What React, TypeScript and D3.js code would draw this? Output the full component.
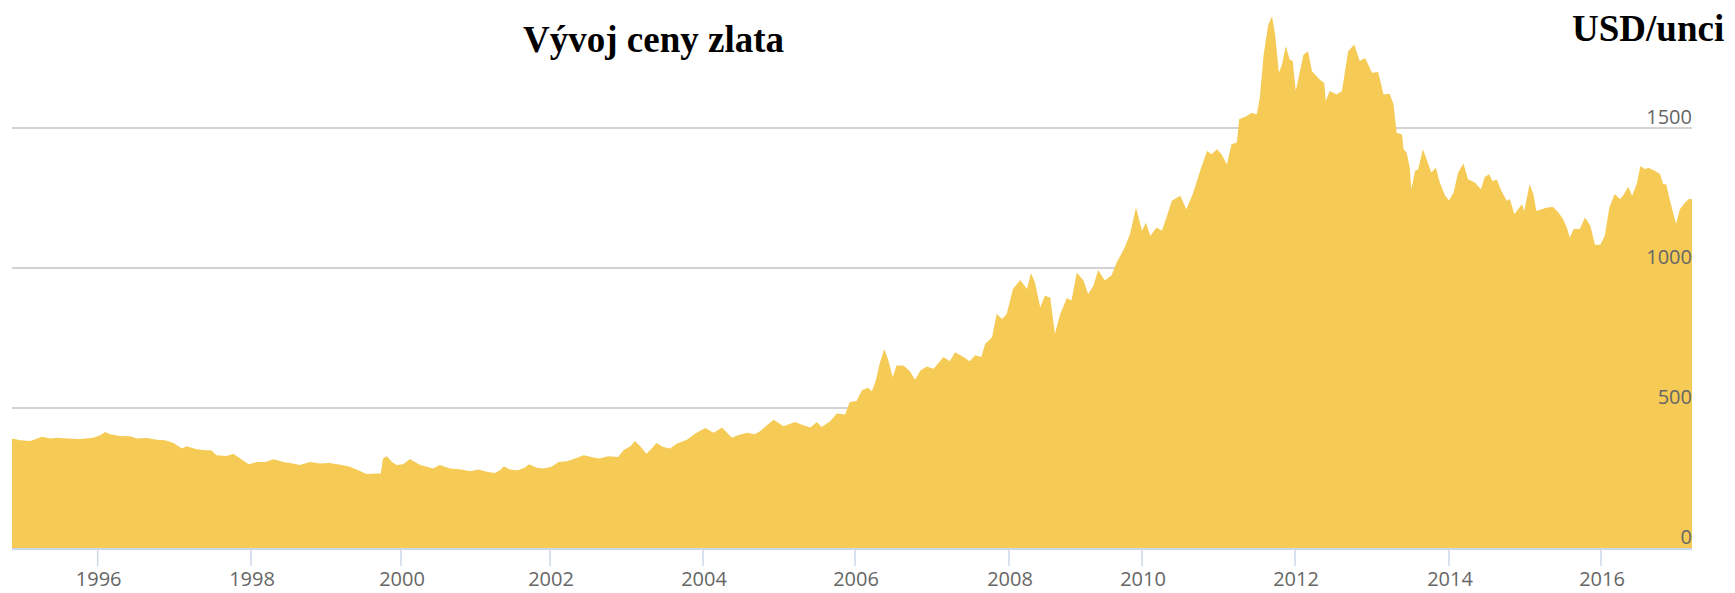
import { useEffect, useRef } from 'react';
import * as d3 from 'd3';

// gold price, USD per ounce: [time in decimal years, price]
const goldSeries: [number, number][] = [
  [1994.88, 391], [1994.99, 385], [1995.12, 382], [1995.27, 397], [1995.38, 391], [1995.48, 394],
  [1995.6, 391], [1995.77, 389], [1995.94, 394], [1996.03, 403], [1996.1, 414], [1996.16, 406],
  [1996.29, 400], [1996.42, 399], [1996.51, 391], [1996.64, 393], [1996.77, 387], [1996.88, 385],
  [1996.99, 375], [1997.1, 355], [1997.16, 363], [1997.29, 353], [1997.4, 349], [1997.48, 349],
  [1997.55, 331], [1997.68, 329], [1997.77, 337], [1997.86, 320], [1997.97, 299], [1998.08, 307],
  [1998.19, 307], [1998.3, 317], [1998.43, 307], [1998.56, 302], [1998.65, 296], [1998.79, 307],
  [1998.92, 302], [1999.05, 304], [1999.21, 296], [1999.32, 290], [1999.43, 278], [1999.54, 264],
  [1999.68, 266], [1999.73, 266], [1999.76, 320], [1999.81, 328], [1999.88, 307], [1999.94, 296],
  [2000.03, 299], [2000.12, 318], [2000.21, 304], [2000.26, 296], [2000.43, 284], [2000.52, 296],
  [2000.66, 284], [2000.81, 280], [2000.93, 274], [2001.04, 280], [2001.15, 272], [2001.26, 268],
  [2001.33, 278], [2001.38, 292], [2001.46, 280], [2001.57, 278], [2001.66, 287], [2001.72, 299],
  [2001.82, 287], [2001.91, 284], [2002.02, 290], [2002.11, 307], [2002.22, 310], [2002.33, 320],
  [2002.44, 331], [2002.57, 323], [2002.65, 320], [2002.76, 328], [2002.89, 325], [2002.96, 349],
  [2003.05, 363], [2003.11, 382], [2003.18, 363], [2003.26, 337], [2003.33, 355], [2003.39, 375],
  [2003.48, 361], [2003.57, 355], [2003.66, 373], [2003.79, 387], [2003.9, 409], [2004.03, 429],
  [2004.14, 412], [2004.25, 430], [2004.38, 394], [2004.46, 403], [2004.58, 412], [2004.68, 406],
  [2004.75, 417], [2004.84, 438], [2004.93, 458], [2005.06, 435], [2005.21, 450], [2005.32, 438],
  [2005.41, 430], [2005.5, 450], [2005.56, 432], [2005.67, 452], [2005.76, 480], [2005.87, 477],
  [2005.93, 521], [2006.02, 525], [2006.09, 563], [2006.17, 572], [2006.22, 560], [2006.27, 598],
  [2006.32, 658], [2006.38, 711], [2006.43, 672], [2006.49, 610], [2006.54, 652], [2006.63, 652],
  [2006.71, 632], [2006.78, 601], [2006.85, 634], [2006.93, 648], [2007.02, 640], [2007.15, 682],
  [2007.23, 667], [2007.3, 699], [2007.41, 682], [2007.49, 667], [2007.56, 688], [2007.64, 682],
  [2007.69, 729], [2007.78, 753], [2007.84, 836], [2007.91, 818], [2007.97, 836], [2008.06, 925],
  [2008.17, 957], [2008.27, 925], [2008.33, 981], [2008.39, 949], [2008.47, 860], [2008.54, 901],
  [2008.62, 895], [2008.69, 765], [2008.77, 836], [2008.87, 893], [2008.94, 884], [2009.02, 984],
  [2009.12, 955], [2009.19, 907], [2009.27, 937], [2009.34, 993], [2009.44, 955], [2009.54, 973],
  [2009.62, 1020], [2009.74, 1073], [2009.82, 1121], [2009.91, 1216], [2010.0, 1133], [2010.05, 1162],
  [2010.11, 1115], [2010.19, 1145], [2010.26, 1133], [2010.32, 1180], [2010.39, 1240], [2010.5, 1258],
  [2010.58, 1210], [2010.67, 1269], [2010.76, 1347], [2010.85, 1418], [2010.91, 1406], [2010.98, 1424],
  [2011.04, 1406], [2011.11, 1370], [2011.17, 1442], [2011.24, 1448], [2011.27, 1531], [2011.37, 1543],
  [2011.43, 1554], [2011.5, 1549], [2011.54, 1608], [2011.59, 1762], [2011.65, 1869], [2011.7, 1899],
  [2011.74, 1834], [2011.79, 1697], [2011.83, 1727], [2011.88, 1792], [2011.93, 1745], [2011.97, 1739],
  [2012.01, 1632], [2012.06, 1697], [2012.11, 1762], [2012.17, 1774], [2012.22, 1703], [2012.32, 1673],
  [2012.38, 1661], [2012.4, 1596], [2012.45, 1632], [2012.54, 1620], [2012.61, 1632], [2012.69, 1774],
  [2012.77, 1798], [2012.84, 1739], [2012.91, 1750], [2013.0, 1697], [2013.08, 1700], [2013.15, 1620],
  [2013.23, 1622], [2013.28, 1584], [2013.32, 1483], [2013.39, 1477], [2013.41, 1424], [2013.45, 1412],
  [2013.49, 1358], [2013.51, 1281], [2013.56, 1347], [2013.6, 1353], [2013.66, 1424], [2013.71, 1388],
  [2013.77, 1341], [2013.83, 1358], [2013.88, 1305], [2013.95, 1258], [2014.0, 1242], [2014.06, 1269],
  [2014.12, 1341], [2014.19, 1373], [2014.25, 1317], [2014.34, 1305], [2014.42, 1281], [2014.47, 1325],
  [2014.53, 1335], [2014.57, 1311], [2014.63, 1315], [2014.69, 1275], [2014.76, 1240], [2014.8, 1246],
  [2014.86, 1192], [2014.91, 1210], [2014.96, 1228], [2014.99, 1204], [2015.06, 1299], [2015.11, 1264],
  [2015.15, 1204], [2015.22, 1210], [2015.29, 1216], [2015.37, 1218], [2015.44, 1198], [2015.5, 1175],
  [2015.55, 1145], [2015.59, 1109], [2015.64, 1139], [2015.72, 1139], [2015.79, 1180], [2015.86, 1151],
  [2015.92, 1083], [2015.99, 1083], [2016.05, 1115], [2016.11, 1216], [2016.18, 1264], [2016.25, 1246],
  [2016.29, 1258], [2016.36, 1290], [2016.41, 1258], [2016.47, 1299], [2016.52, 1364], [2016.58, 1353],
  [2016.62, 1358], [2016.71, 1347], [2016.78, 1335], [2016.82, 1299], [2016.86, 1299], [2016.91, 1240],
  [2016.99, 1157], [2017.04, 1210], [2017.11, 1234], [2017.16, 1246], [2017.2, 1246],
];

const yearTicks = [1996, 1998, 2000, 2002, 2004, 2006, 2008, 2010, 2012, 2014, 2016];
// ordinal (index based) axis in the original: the years are not evenly spaced
const yearTickX = [97.7, 251, 401, 550, 703, 855, 1009, 1142, 1295, 1449, 1601];
const priceTicks = [0, 500, 1000, 1500];

const title = 'Vývoj ceny zlata';
const unitLabel = 'USD/unci';

const width = 1735;
const height = 593;
const plotLeft = 12;
const plotRight = 1692;
const plotBottom = 548;

const App = () => {
  const svgRef = useRef<SVGSVGElement>(null);

  useEffect(() => {
    if (!svgRef.current) return;
    const svg = d3.select(svgRef.current);
    svg.selectAll('*').remove();

    // piecewise scale following the ordinal axis of the original
    const first = goldSeries[0][0];
    const last = goldSeries[goldSeries.length - 1][0];
    const x = d3
      .scaleLinear()
      .domain([first, ...yearTicks, last])
      .range([plotLeft, ...yearTickX, plotRight]);

    const y = d3.scaleLinear().domain([0, 1500]).range([plotBottom, 128]);

    const labelFont = '"Open Sans", "DejaVu Sans", sans-serif';

    // grid
    svg
      .append('g')
      .selectAll('line')
      .data(priceTicks.filter(d => d > 0))
      .enter()
      .append('line')
      .attr('x1', plotLeft)
      .attr('x2', plotRight)
      .attr('y1', d => y(d))
      .attr('y2', d => y(d))
      .attr('stroke', '#c4c4c4')
      .attr('stroke-width', 1.6);

    // area
    const area = d3
      .area<[number, number]>()
      .x(d => x(d[0]))
      .y0(plotBottom)
      .y1(d => y(d[1]))
      .curve(d3.curveLinear);

    svg
      .append('path')
      .datum(goldSeries)
      .attr('d', area)
      .attr('fill', '#f5cb56');

    // x axis
    const xAxis = svg.append('g');
    xAxis
      .append('line')
      .attr('x1', plotLeft)
      .attr('x2', plotRight)
      .attr('y1', plotBottom + 1)
      .attr('y2', plotBottom + 1)
      .attr('stroke', '#ccd6eb')
      .attr('stroke-width', 2);

    xAxis
      .selectAll('.tick')
      .data(yearTicks)
      .enter()
      .append('line')
      .attr('class', 'tick')
      .attr('x1', d => x(d))
      .attr('x2', d => x(d))
      .attr('y1', plotBottom + 2)
      .attr('y2', plotBottom + 18)
      .attr('stroke', '#ccd6eb')
      .attr('stroke-width', 1.5);

    xAxis
      .selectAll('.label')
      .data(yearTicks)
      .enter()
      .append('text')
      .attr('class', 'label')
      .attr('x', d => x(d) + 1)
      .attr('y', 586)
      .attr('text-anchor', 'middle')
      .attr('font-family', labelFont)
      .attr('font-size', 20)
      .attr('fill', '#666666')
      .text(d => String(d));

    // y labels, right aligned above the grid lines
    svg
      .append('g')
      .selectAll('text')
      .data(priceTicks)
      .enter()
      .append('text')
      .attr('x', plotRight)
      .attr('y', d => y(d) - 4)
      .attr('text-anchor', 'end')
      .attr('font-family', labelFont)
      .attr('font-size', 20)
      .attr('fill', '#666666')
      .text(d => String(d));

    // titles
    svg
      .append('text')
      .attr('x', 523)
      .attr('y', 52)
      .attr('font-family', '"Liberation Serif", "Times New Roman", serif')
      .attr('font-weight', 'bold')
      .attr('font-size', 37)
      .attr('fill', '#000')
      .text(title);

    svg
      .append('text')
      .attr('x', 1572)
      .attr('y', 41)
      .attr('font-family', '"Liberation Serif", "Times New Roman", serif')
      .attr('font-weight', 'bold')
      .attr('font-size', 37)
      .attr('fill', '#000')
      .text(unitLabel);
  }, []);

  return (
    <div style={{ position: 'absolute', left: 0, top: 0, background: '#fff' }}>
      <svg ref={svgRef} width={width} height={height} style={{ display: 'block' }} />
    </div>
  );
};

export default App;
